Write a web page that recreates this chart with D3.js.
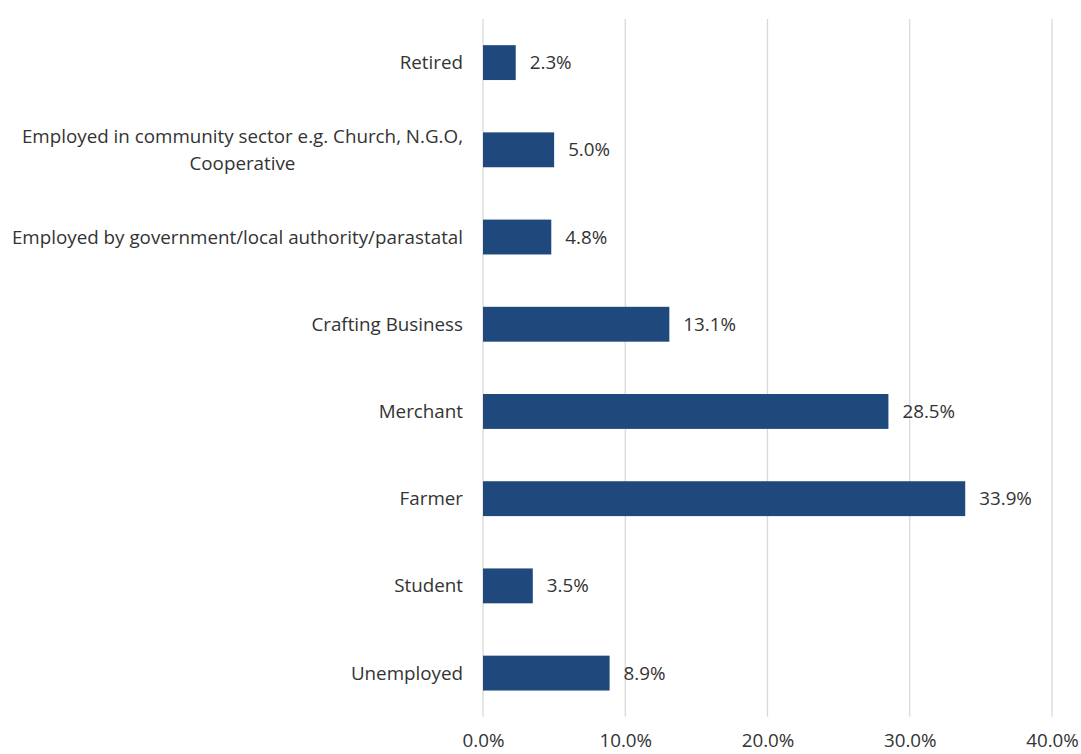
<!DOCTYPE html>
<html>
<head>
<meta charset="utf-8">
<script src="https://cdn.jsdelivr.net/npm/d3@7"></script>
<style>
  html, body { margin: 0; padding: 0; background: #ffffff; }
  svg { display: block; }
  text { font-family: "Open Sans", "Liberation Sans", sans-serif; fill: #333333; }
</style>
</head>
<body>
<svg id="chart" width="1081" height="754"></svg>
<script>
// Occupation categories, top to bottom
const categories = [
  "Retired",
  "Employed in community sector e.g. Church, N.G.O,|Cooperative",
  "Employed by government/local authority/parastatal",
  "Crafting Business",
  "Merchant",
  "Farmer",
  "Student",
  "Unemployed"
];
// Share of respondents (%)
const values = [2.3, 5.0, 4.8, 13.1, 28.5, 33.9, 3.5, 8.9];
// Axis ticks (%)
const tickValues = [0, 10, 20, 30, 40];

const fontSize = 18.8;
const svg = d3.select("#chart");
const plotLeft = 483, plotRight = 1052, plotTop = 19, plotBottom = 716.7;

const x = d3.scaleLinear().domain([0, 40]).range([plotLeft, plotRight]);
const y = d3.scaleBand().domain(categories).range([plotTop, plotBottom])
  .paddingInner(0.6).paddingOuter(0.3);

// Vertical gridlines
svg.append("g")
  .selectAll("line")
  .data(tickValues)
  .join("line")
  .attr("x1", d => x(d)).attr("x2", d => x(d))
  .attr("y1", plotTop).attr("y2", plotBottom)
  .attr("stroke", "#d9d9d9")
  .attr("stroke-width", 1.3);

// X axis tick labels
const xAxis = d3.axisBottom(x).tickValues(tickValues)
  .tickFormat(d => d.toFixed(1) + "%").tickSize(0).tickPadding(0);
const gx = svg.append("g").attr("transform", `translate(0,${plotBottom + 24})`).call(xAxis);
gx.select(".domain").remove();
gx.selectAll("text").attr("font-size", fontSize).attr("dy", "0.35em")
  .style("font-family", "\"Open Sans\", sans-serif").attr("fill", "#333333");

// Bars
const data = categories.map((c, i) => ({ cat: c, v: values[i] }));
svg.append("g")
  .selectAll("rect")
  .data(data)
  .join("rect")
  .attr("x", x(0))
  .attr("y", d => y(d.cat))
  .attr("width", d => x(d.v) - x(0))
  .attr("height", y.bandwidth())
  .attr("fill", "#1f497d");

// Value labels
svg.append("g")
  .selectAll("text")
  .data(data)
  .join("text")
  .attr("x", d => x(d.v) + 14)
  .attr("y", d => y(d.cat) + y.bandwidth() / 2)
  .attr("dy", "0.35em")
  .attr("font-size", fontSize)
  .text(d => d.v.toFixed(1) + "%");

// Category labels (multi-line labels split on "|", centred on each other)
const yAxis = d3.axisLeft(y).tickSize(0).tickPadding(0).tickFormat("");
const gy = svg.append("g").attr("transform", `translate(${plotLeft},0)`).call(yAxis);
gy.select(".domain").remove();
gy.selectAll(".tick").each(function(d) {
  const lines = d.split("|");
  const g = d3.select(this);
  if (lines.length === 1) {
    g.append("text").attr("x", -20).attr("dy", "0.35em")
      .attr("text-anchor", "end").attr("font-size", fontSize).text(lines[0]);
  } else {
    const t = g.append("text").attr("text-anchor", "middle").attr("font-size", fontSize);
    t.append("tspan").attr("x", 0).attr("dy", "-0.35em").text(lines[0]);
    t.append("tspan").attr("x", 0).attr("dy", "1.4em").text(lines[1]);
    const w = t.node().getBBox().width;
    t.attr("transform", `translate(${-20 - w / 2},0)`);
  }
});
</script>
</body>
</html>
